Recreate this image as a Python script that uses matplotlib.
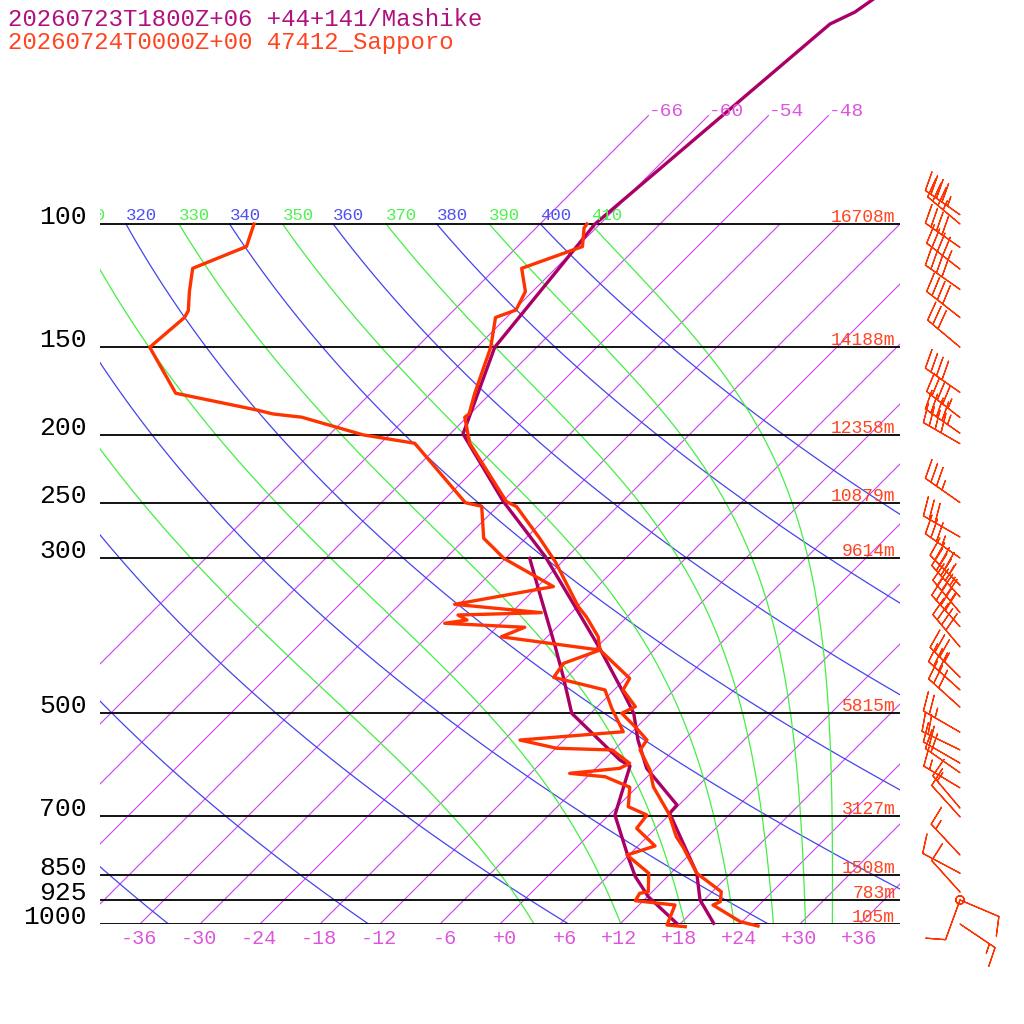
# skew-T log-p sounding: Mashike model vs Sapporo (47412) radiosonde
import matplotlib
matplotlib.use('Agg')
import matplotlib.pyplot as plt
import matplotlib.transforms as mtransforms
import numpy as np

plt.rcParams['font.family'] = ['Liberation Mono', 'DejaVu Sans Mono']

# Sapporo 47412 temperature / dewpoint (hPa, degC)
sap_t_p = [100, 101.3, 107.7, 115.7, 124.9, 132.7, 136.0, 150, 174.5, 186.8, 188.8, 205.7,
           249.2, 253.3, 281.2, 303.7, 352.1, 363.9, 388.8, 406.1, 445.7, 463.1, 489.2, 500,
           525.4, 546.0, 564.1, 602.6, 636.6, 694.9, 750.4, 776.2, 846.2, 899.3, 929.2, 939.5,
           992.5, 1006.6]
sap_t = [-61.3, -61.2, -59.5, -63.4, -60.7, -59.8, -61.1, -58.6, -55.6, -54.1, -54.2, -51.1,
         -41.6, -40.1, -34.6, -30.7, -23.9, -22.1, -18.9, -17.4, -11.6, -11.1, -8.2, -8.9,
         -5.9, -3.7, -3.4, -0.4, 1.6, 5.8, 8.9, 10.6, 14.6, 18.9, 19.8, 19.4,
         23.8, 26.0]
sap_td_p = [100, 107.7, 115.7, 124.9, 133.0, 136.0, 150, 174.5, 184.4, 186.8, 188.8, 200.1,
            205.7, 250.1, 253.1, 281.2, 290.5, 300.3, 329.6, 349.4, 359.1, 361.9, 367.9, 371.9,
            376.8, 388.8, 406.1, 424.2, 444.3, 463.1, 491.8, 531.3, 546.0, 561.0, 564.1, 589.5,
            599.3, 609.2, 616.1, 637.7, 679.9, 698.8, 730.0, 773.6, 797.0, 846.2, 899.3, 904.0,
            926.2, 939.5, 1003.3, 1008.9]
sap_td = [-94.6, -93.1, -96.3, -94.3, -92.5, -92.2, -92.7, -85.5, -75.7, -73.7, -70.5, -62.6,
          -56.6, -45.6, -43.6, -40.2, -38.2, -36.2, -28.4, -36.5, -27.0, -35.1, -33.7, -35.6,
          -27.2, -28.6, -17.4, -19.7, -19.3, -12.9, -10.4, -6.9, -16.4, -11.9, -6.2, -3.1,
          -3.6, -8.1, -4.2, -0.7, 1.1, 3.8, 4.1, 7.7, 5.8, 9.8, 11.6, 10.9,
          11.2, 15.6, 16.8, 18.8]

# Mashike model profile
mas_t_p = [45, 49.8, 51.8, 100, 150, 199.5, 249.2, 298.7, 355.9, 403.8, 468.2, 500, 546.0,
           599.3, 676.1, 694.9, 846.2, 924.0, 997.7]
mas_t = [-54.4, -55.7, -57.0, -60.5, -58.2, -52.7, -41.9, -32.2, -23.7, -17.6, -10.7, -7.7, -4.6,
         -0.9, 5.8, 5.9, 14.6, 17.6, 21.3]
mas_td_p = [300.3, 337.0, 401.7, 443.4, 500, 583.2, 594.7, 698.8, 805.8, 855.8, 914.1, 997.7]
mas_td = [-33.6, -29.1, -22.2, -18.4, -13.9, -4.4, -2.8, 0.6, 6.3, 8.8, 12.1, 17.6]

# Sapporo winds (hPa, direction deg, speed kt)
wind_p = [97, 100, 108, 116, 124, 136, 150, 174, 189, 199, 206, 250, 280, 300, 328, 341, 359,
          376, 402, 444, 463, 490, 532, 564, 589, 608, 639, 683, 703, 797, 846, 900, 924, 924,
          924, 1000]
wind_dir = [305, 310, 305, 308, 305, 308, 310, 305, 308, 305, 300, 305, 300, 305, 315, 318, 320,
            318, 320, 315, 312, 312, 300, 296, 300, 305, 301, 320, 318, 317, 298, 318, 0, 200,
            113, 124]
wind_kt = [45, 35, 40, 45, 40, 40, 30, 40, 45, 45, 40, 35, 30, 35, 45, 45, 45,
           40, 40, 35, 30, 30, 25, 20, 20, 20, 15, 15, 10, 15, 10, 10, 0, 10,
           10, 15]

# standard levels and Sapporo heights
std_p = [100, 150, 200, 250, 300, 500, 700, 850, 925, 1000]
std_hgt = ['16708m', '14188m', '12358m', '10879m', '9614m', '5815m', '3127m', '1508m',
           '783m', '105m']

iso_t = list(range(-66, 37, 6))
dry_theta = list(range(240, 401, 20))
moist_theta = list(range(290, 411, 20))

c_sap = '#ff3300'
c_mas = '#aa0066'
c_iso = '#cc44ee'
c_dry = '#4444ee'
c_moist = '#44ee44'

fig = plt.figure(figsize=(10.24, 10.24), dpi=100)
ax = fig.add_axes([100 / 1024, 100 / 1024, 800 / 1024, 924 / 1024])
ax.set_yscale('log')
ax.set_autoscale_on(False)
ax.set_xlim(-40, 40)
ax.set_ylim(1000, 1000 * 10 ** (-924 / 700))
ax.axis('off')

# 45 degree skew in display space, pivot on the 1000 hPa line
skew = ax.transData + mtransforms.Affine2D().translate(0, -100).skew_deg(45, 0).translate(0, 100)
top_lab = mtransforms.offset_copy(skew, fig, x=0, y=4, units='dots')


def theta_e_sat(tk, p):
    es = 6.112 * np.exp(17.67 * (tk - 273.15) / (tk - 29.65))
    es = np.minimum(es, 0.5 * p)
    r = 622.0 * es / (p - es)
    th = tk * (1000.0 / p) ** (0.2854 * (1 - 0.00028 * r))
    return th * np.exp((3.376 / tk - 0.00254) * r * (1 + 0.00081 * r))


def moist_t(the, p):
    lo = np.full_like(p, 150.0)
    hi = np.full_like(p, 330.0)
    for _ in range(50):
        mid = 0.5 * (lo + hi)
        big = theta_e_sat(mid, p) > the
        hi = np.where(big, mid, hi)
        lo = np.where(big, lo, mid)
    return 0.5 * (lo + hi) - 273.15


pp = np.logspace(3, 2, 120)

# isotherms
for t in iso_t:
    ptop = 70 if t <= -48 else 100
    ax.plot([t, t], [1000, ptop], color=c_iso, lw=0.8, transform=skew)
    if t <= -48:
        ax.text(t, ptop, '%d' % t, color='#dd55dd', fontsize=14, ha='left', va='baseline',
                transform=skew)
    if t >= -36:
        ax.text(t, 1000, '%+d' % t, color='#dd55dd', fontsize=14.5, ha='right', va='baseline',
                transform=mtransforms.offset_copy(skew, fig, x=17, y=-20, units='dots'),
                clip_on=False)

# dry adiabats
for th in dry_theta:
    tt = th * (pp / 1000.0) ** 0.2857 - 273.15
    ax.plot(tt, pp, color=c_dry, lw=0.9, transform=skew)
    if th >= 320:
        ax.text(tt[-1], 100, '%d' % th, color='#5050f0', fontsize=12.5, ha='left',
                va='baseline', transform=top_lab, clip_on=True)

# moist adiabats (theta-e)
for th in moist_theta:
    tt = moist_t(th, pp)
    ax.plot(tt, pp, color=c_moist, lw=0.9, transform=skew)
    if th >= 310:
        ax.text(tt[-1], 100, '%d' % th, color='#50f050', fontsize=12.5, ha='left',
                va='baseline', transform=top_lab, clip_on=True)

# standard pressure lines with labels
lab_tr = mtransforms.blended_transform_factory(ax.transAxes, ax.transData)
for p, h in zip(std_p, std_hgt):
    ax.axhline(p, color='black', lw=1.3)
    ax.text(-0.0163, p, str(p), fontsize=19, ha='right', va='baseline', transform=lab_tr,
            clip_on=False)
    ax.text(0.994, p, h, fontsize=13, color='#ff4422', ha='right', va='baseline',
            transform=mtransforms.offset_copy(lab_tr, fig, x=0, y=2, units='dots'))

# soundings
ax.plot(mas_td, mas_td_p, color=c_mas, lw=2.4, transform=skew, clip_on=False)
ax.plot(mas_t, mas_t_p, color=c_mas, lw=2.4, transform=skew, clip_on=False)
ax.plot(sap_td, sap_td_p, color=c_sap, lw=2.4, transform=skew, clip_on=False)
ax.plot(sap_t, sap_t_p, color=c_sap, lw=2.4, transform=skew, clip_on=False)

# wind barbs to the right of the diagram
bax = fig.add_axes([900 / 1024, 100 / 1024, 124 / 1024, 924 / 1024])
bax.set_yscale('log')
bax.set_autoscale_on(False)
bax.set_xlim(-60, 64)
bax.set_ylim(1000, 1000 * 10 ** (-924 / 700))
bax.axis('off')
wd = np.radians(wind_dir)
u = -np.array(wind_kt) * np.sin(wd)
v = -np.array(wind_kt) * np.cos(wd)
bax.barbs(np.zeros(len(wind_p)), wind_p, u, v, length=7.8, color=c_sap, linewidth=0.9,
          sizes=dict(spacing=0.16, height=0.45, width=0.25, emptybarb=0.1), clip_on=False)

# titles
fig.text(8 / 1024, 1 - 26 / 1024, '20260723T1800Z+06 +44+141/Mashike', color='#b01080',
         fontsize=17.3, ha='left', va='baseline')
fig.text(8 / 1024, 1 - 49 / 1024, '20260724T0000Z+00 47412_Sapporo', color='#ff4422',
         fontsize=17.3, ha='left', va='baseline')

fig.savefig('out.png', dpi=100)
